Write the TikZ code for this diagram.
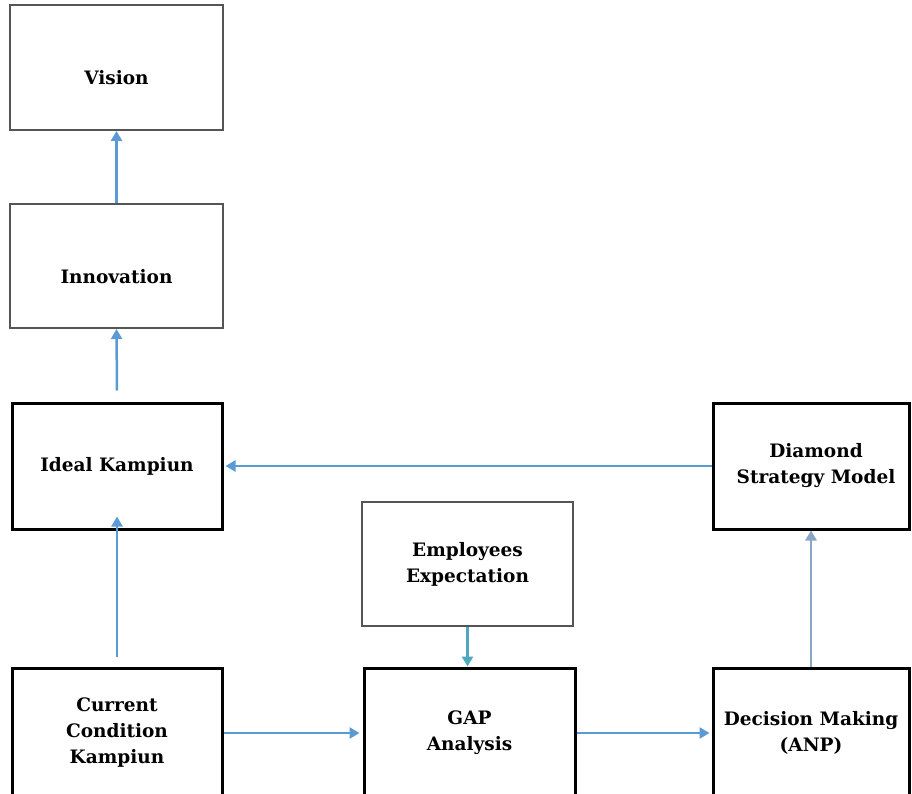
\documentclass[tikz,border=0pt]{standalone}
\usepackage{fontspec}
\setmainfont{DejaVu Serif}
\usepackage{tikz}
\usetikzlibrary{arrows.meta}

\definecolor{flowblue}{HTML}{5B9BD5}
\definecolor{flowteal}{HTML}{4FA9BC}
\definecolor{flowgrey}{HTML}{8AA6C6}
\definecolor{boxgrey}{HTML}{555555}

\begin{document}
\begin{tikzpicture}
	[
		x = 1pt, y = -1pt,
		every node/.style = {shape=rectangle, align=center, draw, inner sep=0pt, font=\fontsize{18.5}{26}\selectfont\bfseries},
		boxblack/.style = {line width=3pt, draw=black},
		boxgray/.style = {line width=2pt, draw=boxgrey},
		lowtext/.style = {text height=35pt, text depth=0pt},
		flow/.style = {line width=2.5pt, draw=#1, -{Triangle[width=11pt,length=10pt]}},
		flow/.default = flowblue,
	]

	\useasboundingbox (0,0) rectangle (912,794);

	% left column
	\node[boxgray, lowtext, minimum width=213pt, minimum height=125pt] (vision) at (116.5,67.5) {Vision};
	\node[boxgray, lowtext, minimum width=213pt, minimum height=124pt] (innov) at (116.5,266) {Innovation};
	\node[boxblack, minimum width=210pt, minimum height=126pt] (ideal) at (117,466) {Ideal Kampiun};
	\node[boxblack, minimum width=210pt, minimum height=130pt] (current) at (117,733) {Current\\Condition\\Kampiun};

	% middle column
	\node[boxgray, minimum width=211pt, minimum height=124pt] (expect) at (467.5,564) {Employees\\Expectation};
	\node[boxblack, minimum width=211pt, minimum height=130pt] (gap) at (469.5,733) {GAP\\Analysis};

	% right column
	\node[boxblack, minimum width=196pt, minimum height=126pt] (diamond) at (811,466) {\hspace*{10pt}Diamond\\\hspace*{10pt}Strategy Model};
	\node[boxblack, minimum width=196pt, minimum height=130pt] (decide) at (811,733) {Decision Making\\(ANP)};

	\path
	([yshift=11pt]ideal.north) edge[flow] (innov.south)
	(innov.north) edge[flow] (vision.south)
	([yshift=10pt]current.north) edge[flow] ([yshift=14pt]ideal.south)
	(diamond.west) edge[flow] ([xshift=2pt]ideal.east)
	(current.east) edge[flow] ([xshift=-3pt]gap.west)
	(gap.east) edge[flow] ([xshift=-2pt]decide.west)
	(expect.south) edge[flow=flowteal] (expect.south |- gap.north)
	(decide.north) edge[flow=flowgrey] (diamond.south);

\end{tikzpicture}
\end{document}
